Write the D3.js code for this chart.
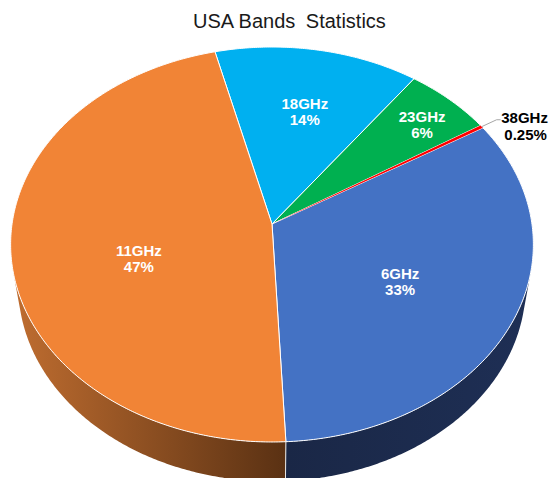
<!DOCTYPE html>
<html>
<head>
<meta charset="utf-8">
<script src="https://cdn.jsdelivr.net/npm/d3@7"></script>
<style>
  html, body { margin: 0; padding: 0; background: #ffffff; }
  svg { display: block; }
  text { font-family: "Liberation Sans", Arial, sans-serif; }
</style>
</head>
<body>
<svg id="chart" width="549" height="478"></svg>
<script>
// Band shares, clockwise from the 18GHz slice
const categories = ["18GHz", "23GHz", "38GHz", "6GHz", "11GHz"];
const shares = [14, 6, 0.25, 33, 47];
const percentLabels = ["14%", "6%", "0.25%", "33%", "47%"];
const title = ["USA Bands", "Statistics"];

// Appearance
const topColors = { "18GHz": "#00B0F0", "23GHz": "#00B050", "38GHz": "#FF0000", "6GHz": "#4472C4", "11GHz": "#F18436" };
const sideColors = {
  "18GHz": ["#007BA8", "#004F6C"],
  "23GHz": ["#007B38", "#004F24"],
  "38GHz": ["#B30000", "#730000"],
  "6GHz": ["#1E2F55", "#1A2746"],
  "11GHz": ["#BF6D30", "#5A3113"]
};
// label anchor: radial fraction of the slice plus a small nudge
const labelSpot = {
  "18GHz": { r: 0.63, dx: 3, dy: 1 },
  "23GHz": { r: 0.80, dx: 6, dy: 2 },
  "6GHz": { r: 0.56, dx: -4, dy: 5 },
  "11GHz": { r: 0.51, dx: -1, dy: 20 }
};

// Perspective view of a tilted disc of unit radius
const view = { cx: 272, cy: 224, f: 1652, D: 6.355, s: 0.7515, c: 0.6597, h: 0.25 };
function project(theta, r, y) {
  const u = r * Math.sin(theta), v = r * Math.cos(theta);
  const Y = v * view.s + y * view.c;
  const Z = view.D + v * view.c - y * view.s;
  return [view.cx + view.f * u / Z, view.cy - view.f * Y / Z];
}
function arcPoints(a0, a1, r, y) {
  const n = Math.max(2, Math.ceil(Math.abs(a1 - a0) / (Math.PI / 360)));
  return d3.range(n + 1).map(i => project(a0 + (a1 - a0) * i / n, r, y));
}

const startAngle = -13.97 * Math.PI / 180;
const pie = d3.pie().sort(null).startAngle(startAngle).endAngle(startAngle + 2 * Math.PI);
const arcs = pie(shares).map((d, i) => ({ ...d, name: categories[i], pct: percentLabels[i] }));

const svg = d3.select("#chart");
const defs = svg.append("defs");
const line = d3.line();

// Front wall: only the part facing the viewer
const visLimit = Math.acos(-1 / (view.D * view.c));
const visStart = visLimit, visEnd = 2 * Math.PI - visLimit;
const norm = a => ((a % (2 * Math.PI)) + 2 * Math.PI) % (2 * Math.PI);

const walls = svg.append("g");
arcs.forEach((d, i) => {
  let a0 = norm(d.startAngle), a1 = a0 + (d.endAngle - d.startAngle);
  // slices may cross 0; test both windings
  [[a0, a1], [a0 - 2 * Math.PI, a1 - 2 * Math.PI]].forEach(([b0, b1]) => {
    const w0 = Math.max(b0, visStart), w1 = Math.min(b1, visEnd);
    if (w1 <= w0) return;
    const top = arcPoints(w0, w1, 1, 0);
    const bottom = arcPoints(w1, w0, 1, -view.h);
    const xs = top.concat(bottom).map(p => p[0]);
    const id = "wall" + i + "_" + Math.round(w0 * 100);
    const g = defs.append("linearGradient").attr("id", id)
      .attr("gradientUnits", "userSpaceOnUse")
      .attr("x1", d3.min(xs)).attr("x2", d3.max(xs)).attr("y1", 0).attr("y2", 0);
    const [cLight, cDark] = sideColors[d.name];
    // light comes from the left, so walls darken toward the middle front
    const leftLit = d3.mean(xs) < view.cx;
    g.append("stop").attr("offset", 0).attr("stop-color", leftLit ? cLight : cDark);
    g.append("stop").attr("offset", 1).attr("stop-color", leftLit ? cDark : cLight);
    walls.append("path")
      .attr("d", line(top.concat(bottom)) + "Z")
      .attr("fill", `url(#${id})`);
  });
});
// seams between walls
arcs.forEach(d => {
  const a = norm(d.startAngle);
  const cand = [a, a - 2 * Math.PI].find(x => x > visStart && x < visEnd);
  if (cand === undefined) return;
  walls.append("path")
    .attr("d", line([project(cand, 1, 0), project(cand, 1, -view.h)]))
    .attr("stroke", "#e8e8e8").attr("stroke-width", 1).attr("fill", "none");
});

// Top faces; the thin slice goes last so its red stays visible
const tops = svg.append("g");
const drawOrder = arcs.filter(d => d.name !== "38GHz").concat(arcs.filter(d => d.name === "38GHz"));
drawOrder.forEach(d => {
  const thinSlice = d.name === "38GHz";
  const pts = [project(0, 0, 0)].concat(arcPoints(d.startAngle, d.endAngle, 1, 0));
  tops.append("path")
    .attr("d", line(pts) + "Z")
    .attr("fill", topColors[d.name])
    .attr("stroke", thinSlice ? "none" : "#ffffff")
    .attr("stroke-width", 1)
    .attr("stroke-linejoin", "round");
});

// Labels inside slices
const labels = svg.append("g")
  .attr("font-size", 15).attr("font-weight", "bold").attr("text-anchor", "middle");
arcs.forEach(d => {
  const spot = labelSpot[d.name];
  if (!spot) return;
  const mid = (d.startAngle + d.endAngle) / 2;
  const [x, y] = project(mid, spot.r, 0);
  const t = labels.append("text").attr("fill", "#ffffff");
  t.append("tspan").attr("x", x + spot.dx).attr("y", y + spot.dy - 3).text(d.name);
  t.append("tspan").attr("x", x + spot.dx).attr("y", y + spot.dy + 13).text(d.pct);
});

// Leader line and outside label for the thin slice
const thin = arcs.find(d => d.name === "38GHz");
{
  const mid = (thin.startAngle + thin.endAngle) / 2;
  const p0 = project(mid, 1.0, 0);
  const p1 = project(mid, 1.075, 0);
  const p2 = [p1[0] + 4, p1[1]];
  svg.append("path").attr("d", line([p0, p1, p2]))
    .attr("fill", "none").attr("stroke", "#a6a6a6").attr("stroke-width", 1);
  const t = svg.append("text").attr("fill", "#000000")
    .attr("font-size", 15).attr("font-weight", "bold").attr("text-anchor", "middle");
  t.append("tspan").attr("x", p2[0] + 24).attr("y", p2[1] + 3).text(thin.name);
  t.append("tspan").attr("x", p2[0] + 25).attr("y", p2[1] + 20).text(thin.pct);
}

// Title
const tt = svg.append("text").attr("x", 193).attr("y", 28)
  .attr("font-size", 20).attr("fill", "#1a1a1a");
tt.append("tspan").text(title[0] + " ");
tt.append("tspan").attr("dx", 5).text(title[1]);
</script>
</body>
</html>
